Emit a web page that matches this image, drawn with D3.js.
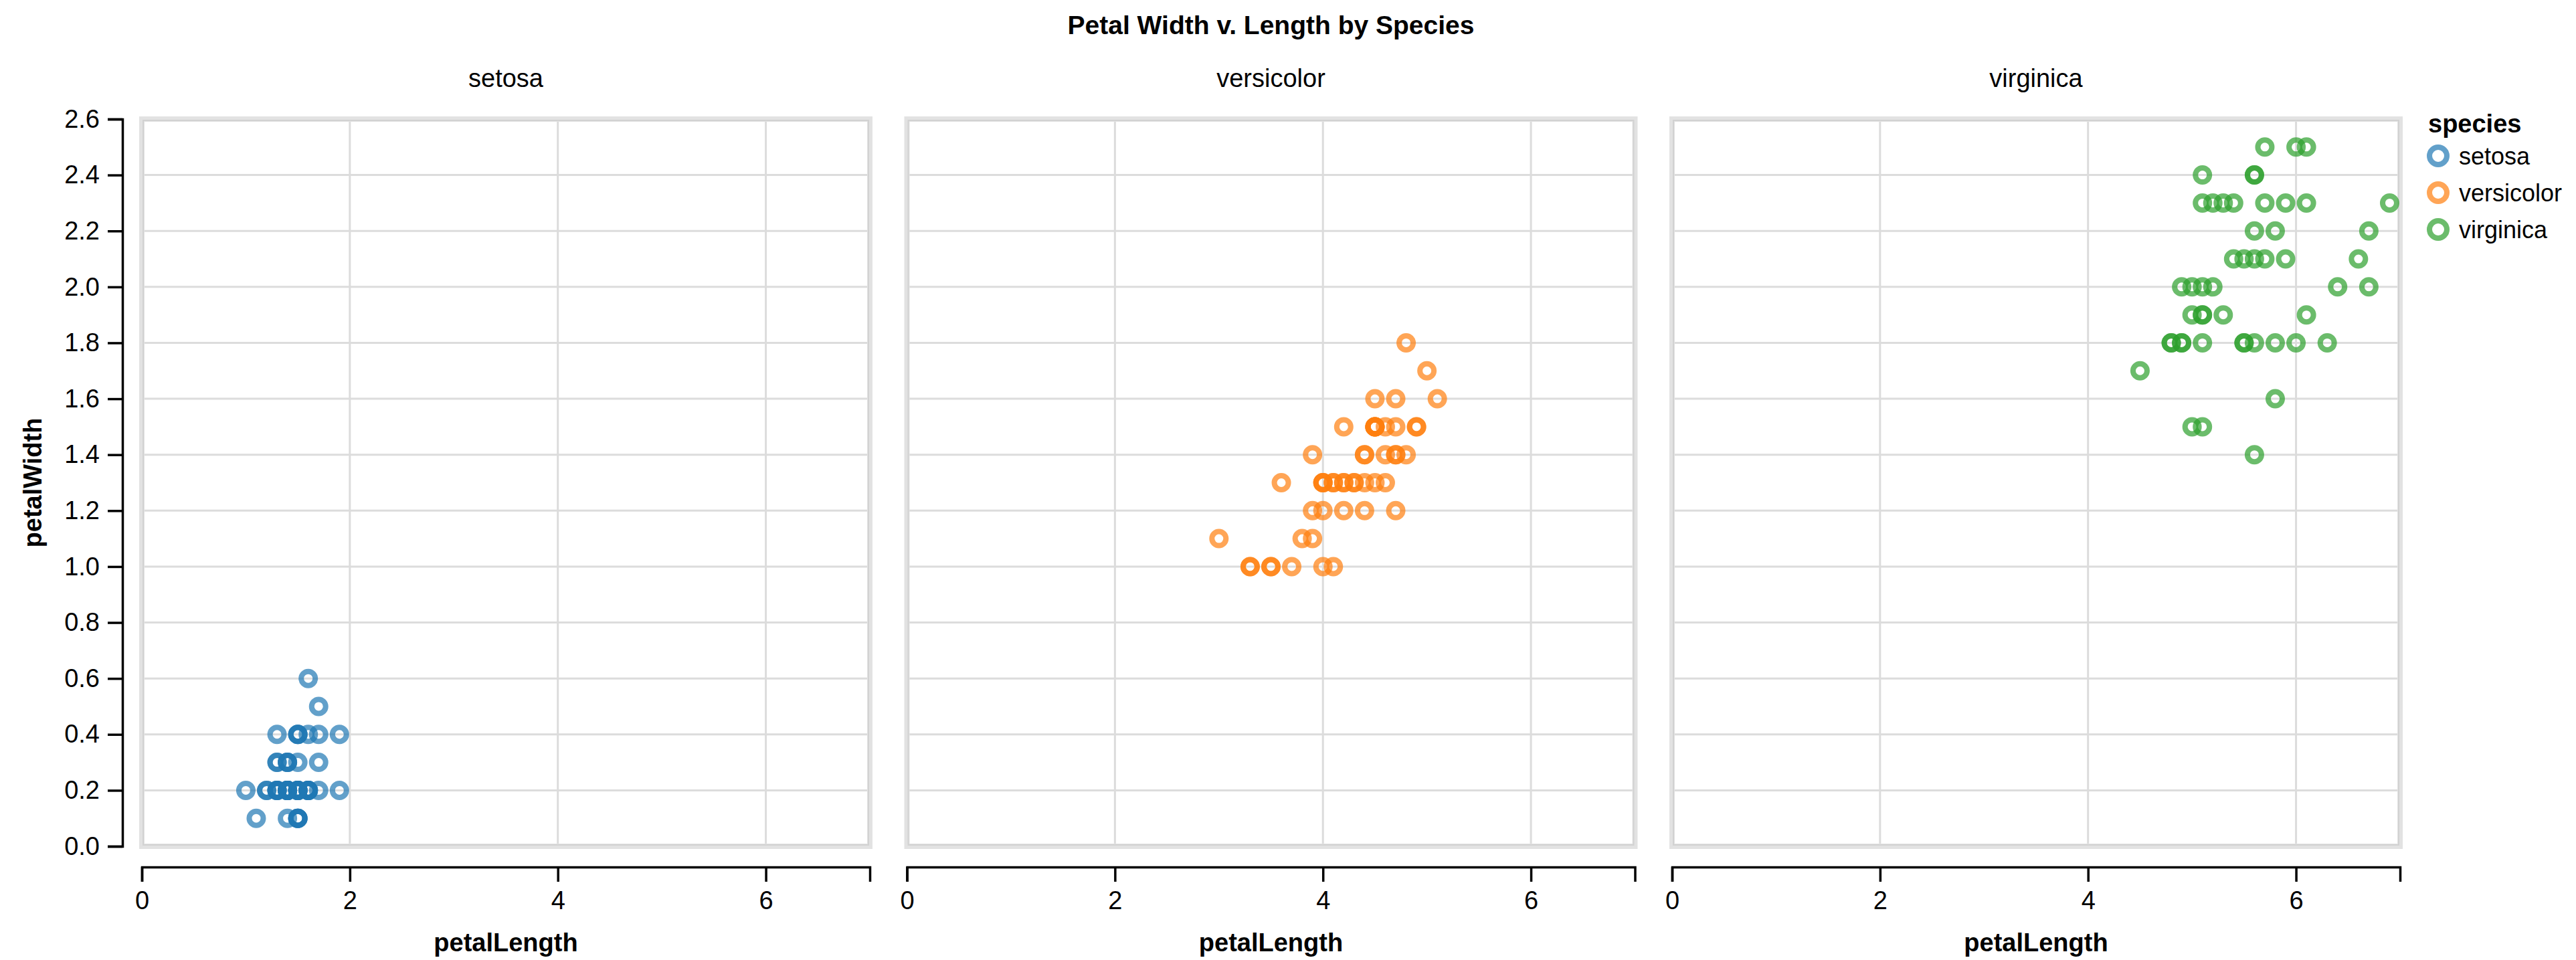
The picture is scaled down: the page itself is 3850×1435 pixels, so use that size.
<!DOCTYPE html>
<html>
<head>
<meta charset="utf-8">
<script src="https://cdn.jsdelivr.net/npm/d3@7"></script>
<style>
  body { margin: 0; background: #fff; }
  text { font-family: "Liberation Sans", Arial, Helvetica, sans-serif; fill: #000; }
</style>
</head>
<body>
<div id="container"></div>
<script>
// Iris petal measurements, one pair of arrays per species
const species = ["setosa", "versicolor", "virginica"];
const colors = ["#1f77b4", "#ff7f0e", "#2ca02c"];

const setosaLength = [1.4,1.4,1.3,1.5,1.4,1.7,1.4,1.5,1.4,1.5,1.5,1.6,1.4,1.1,1.2,1.5,1.3,1.4,1.7,1.5,
  1.7,1.5,1.0,1.7,1.9,1.6,1.6,1.5,1.4,1.6,1.6,1.5,1.5,1.4,1.5,1.2,1.3,1.5,1.3,1.5,
  1.3,1.3,1.3,1.6,1.9,1.4,1.6,1.4,1.5,1.4];
const setosaWidth = [0.2,0.2,0.2,0.2,0.2,0.4,0.3,0.2,0.2,0.1,0.2,0.2,0.1,0.1,0.2,0.4,0.4,0.3,0.3,0.3,
  0.2,0.4,0.2,0.5,0.2,0.2,0.4,0.2,0.2,0.2,0.2,0.4,0.1,0.2,0.1,0.2,0.2,0.1,0.2,0.2,
  0.3,0.3,0.2,0.6,0.4,0.3,0.2,0.2,0.2,0.2];

const versicolorLength = [4.7,4.5,4.9,4.0,4.6,4.5,4.7,3.3,4.6,3.9,3.5,4.2,4.0,4.7,3.6,4.4,4.5,4.1,4.5,3.9,
  4.8,4.0,4.9,4.7,4.3,4.4,4.8,5.0,4.5,3.5,3.8,3.7,3.9,5.1,4.5,4.5,4.7,4.4,4.1,4.0,
  4.4,4.6,4.0,3.3,4.2,4.2,4.2,4.3,3.0,4.1];
const versicolorWidth = [1.4,1.5,1.5,1.3,1.5,1.3,1.6,1.0,1.3,1.4,1.0,1.5,1.0,1.4,1.3,1.4,1.5,1.0,1.5,1.1,
  1.8,1.3,1.5,1.2,1.3,1.4,1.4,1.7,1.5,1.0,1.1,1.0,1.2,1.6,1.5,1.6,1.5,1.3,1.3,1.3,
  1.2,1.4,1.2,1.0,1.3,1.2,1.3,1.3,1.1,1.3];

const virginicaLength = [6.0,5.1,5.9,5.6,5.8,6.6,4.5,6.3,5.8,6.1,5.1,5.3,5.5,5.0,5.1,5.3,5.5,6.7,6.9,5.0,
  5.7,4.9,6.7,4.9,5.7,6.0,4.8,4.9,5.6,5.8,6.1,6.4,5.6,5.1,5.6,6.1,5.6,5.5,4.8,5.4,
  5.6,5.1,5.1,5.9,5.7,5.2,5.0,5.2,5.4,5.1];
const virginicaWidth = [2.5,1.9,2.1,1.8,2.2,2.1,1.7,1.8,1.8,2.5,2.0,1.9,2.1,2.0,2.4,2.3,1.8,2.2,2.3,1.5,
  2.3,2.0,2.0,1.8,2.1,1.8,1.8,1.8,2.1,1.6,1.9,2.0,2.2,1.5,1.4,2.3,2.4,1.8,1.8,2.1,
  2.4,2.3,1.9,2.3,2.5,2.3,1.9,2.0,2.3,1.8];

const lengths = [setosaLength, versicolorLength, virginicaLength];
const widths = [setosaWidth, versicolorWidth, virginicaWidth];

const xTicks = [0, 2, 4, 6];
const yTicks = [0, 0.2, 0.4, 0.6, 0.8, 1.0, 1.2, 1.4, 1.6, 1.8, 2.0, 2.2, 2.4, 2.6];

// Layout
const width = 3850;
const height = 1435;
const marginLeft = 212;
const marginTop = 178;
const panelW = 1088;
const panelH = 1087;
const panelStep = 1143.5;
const fontSize = 38;

const svg = d3.create("svg").attr("width", width).attr("height", height);

const x = d3.scaleLinear().domain([0, 7]).range([0, panelW]);
const y = d3.scaleLinear().domain([0, 2.6]).range([panelH, 0]);

// Chart title
svg.append("text")
  .attr("x", marginLeft + (3 * panelStep - (panelStep - panelW)) / 2)
  .attr("y", 51)
  .attr("text-anchor", "middle")
  .attr("font-size", 39)
  .attr("font-weight", "bold")
  .text("Petal Width v. Length by Species");

species.forEach((name, i) => {
  const g = svg.append("g")
    .attr("transform", `translate(${marginLeft + i * panelStep},${marginTop})`);

  // facet header
  g.append("text")
    .attr("x", panelW / 2)
    .attr("y", -48)
    .attr("text-anchor", "middle")
    .attr("font-size", fontSize)
    .text(name);

  // grid
  g.append("g")
    .selectAll("line")
    .data(xTicks)
    .join("line")
    .attr("x1", (d) => x(d)).attr("x2", (d) => x(d))
    .attr("y1", 0).attr("y2", panelH)
    .attr("stroke", "#dcdcdc").attr("stroke-width", 3);
  g.append("g")
    .selectAll("line")
    .data(yTicks)
    .join("line")
    .attr("x1", 0).attr("x2", panelW)
    .attr("y1", (d) => y(d)).attr("y2", (d) => y(d))
    .attr("stroke", "#dcdcdc").attr("stroke-width", 3);

  // view frame
  g.append("rect")
    .attr("width", panelW).attr("height", panelH)
    .attr("fill", "none")
    .attr("stroke", "#e2e2e2").attr("stroke-width", 8);
  g.append("rect")
    .attr("x", 2).attr("y", 2)
    .attr("width", panelW - 4).attr("height", panelH - 4)
    .attr("fill", "none")
    .attr("stroke", "#d2d2d2").attr("stroke-width", 2);

  // points
  const pts = lengths[i].map((l, j) => ({ l, w: widths[i][j] }));
  g.append("g")
    .selectAll("circle")
    .data(pts)
    .join("circle")
    .attr("cx", (d) => x(d.l))
    .attr("cy", (d) => y(d.w))
    .attr("r", 10.5)
    .attr("fill", "none")
    .attr("stroke", colors[i])
    .attr("stroke-width", 8)
    .attr("stroke-opacity", 0.7);

  // x axis
  const xAxis = g.append("g")
    .attr("transform", `translate(0,${panelH + 31})`)
    .call(d3.axisBottom(x).tickValues(xTicks).tickFormat(d3.format("d")).tickSize(22).tickPadding(14));
  xAxis.selectAll("path, line").attr("stroke", "#000").attr("stroke-width", 3.5);
  xAxis.selectAll("text").attr("font-size", fontSize).attr("font-family", null);

  g.append("text")
    .attr("x", panelW / 2)
    .attr("y", 1422 - marginTop)
    .attr("text-anchor", "middle")
    .attr("font-size", fontSize)
    .attr("font-weight", "bold")
    .text("petalLength");

  // y axis only on the first panel
  if (i === 0) {
    const yAxis = g.append("g")
      .attr("transform", "translate(-29,0)")
      .call(d3.axisLeft(y).tickValues(yTicks).tickFormat(d3.format(".1f")).tickSize(22).tickPadding(12));
    yAxis.selectAll("path, line").attr("stroke", "#000").attr("stroke-width", 3.5);
    yAxis.selectAll("text").attr("font-size", fontSize).attr("font-family", null);

    g.append("text")
      .attr("transform", `translate(${62 - marginLeft},${panelH / 2}) rotate(-90)`)
      .attr("text-anchor", "middle")
      .attr("font-size", fontSize)
      .attr("font-weight", "bold")
      .text("petalWidth");
  }
});

// Legend
const legend = svg.append("g").attr("transform", "translate(3629,198)");
legend.append("text")
  .attr("font-size", fontSize)
  .attr("font-weight", "bold")
  .text("species");
species.forEach((name, i) => {
  const row = legend.append("g").attr("transform", `translate(0,${35 + i * 55})`);
  row.append("circle")
    .attr("cx", 15).attr("cy", 0).attr("r", 13)
    .attr("fill", "none")
    .attr("stroke", colors[i])
    .attr("stroke-width", 8)
    .attr("stroke-opacity", 0.7);
  row.append("text")
    .attr("x", 46)
    .attr("dy", "0.36em")
    .attr("font-size", 36)
    .text(name);
});

document.getElementById("container").append(svg.node());
</script>
</body>
</html>
